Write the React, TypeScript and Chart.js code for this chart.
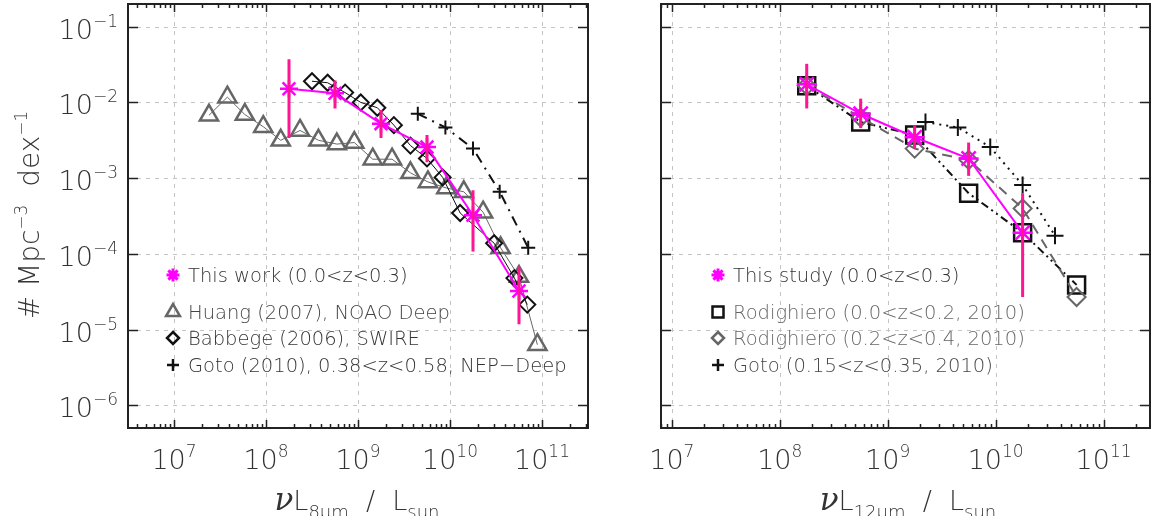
import React, { useEffect, useRef } from 'react';
import { Chart, registerables } from 'chart.js';

Chart.register(...registerables);

// ===== Left panel: 8 micron luminosity function (log10 values) =====
const thisWorkLogL = [8.25, 8.75, 9.25, 9.75, 10.25, 10.75];
const thisWorkLogPhi = [-1.82, -1.88, -2.28, -2.59, -3.49, -4.49];
const thisWorkLogLo = [-2.47, -2.08, -2.47, -2.79, -3.97, -4.93];
const thisWorkLogHi = [-1.43, -1.71, -2.1, -2.43, -3.16, -4.17];

const huangLogL = [7.38, 7.58, 7.77, 7.97, 8.16, 8.37, 8.57, 8.77, 8.96, 9.16, 9.37, 9.57, 9.76, 9.96, 10.15, 10.36, 10.55, 10.75, 10.95];
const huangLogPhi = [-2.17, -1.93, -2.16, -2.32, -2.5, -2.37, -2.5, -2.55, -2.53, -2.75, -2.75, -2.93, -3.05, -3.13, -3.18, -3.45, -3.92, -4.3, -5.2];

const babbegeLogL = [8.5, 8.67, 8.86, 9.03, 9.21, 9.39, 9.57, 9.75, 9.92, 10.11, 10.48, 10.7, 10.84];
const babbegeLogPhi = [-1.72, -1.74, -1.87, -2.0, -2.07, -2.3, -2.57, -2.74, -2.99, -3.46, -3.86, -4.32, -4.67];

const gotoLogL = [9.65, 9.95, 10.25, 10.54, 10.85];
const gotoLogPhi = [-2.15, -2.33, -2.61, -3.18, -3.92];

// ===== Right panel: 12 micron luminosity function (log10 values) =====
const thisStudyLogL = [8.25, 8.75, 9.25, 9.75, 10.25];
const thisStudyLogPhi = [-1.76, -2.15, -2.46, -2.74, -3.72];
const thisStudyLogLo = [-2.08, -2.34, -2.61, -2.97, -4.57];
const thisStudyLogHi = [-1.49, -1.95, -2.3, -2.53, -3.2];

const rodALogL = [8.25, 8.75, 9.25, 9.75, 10.25, 10.75];
const rodALogPhi = [-1.78, -2.26, -2.43, -3.2, -3.72, -4.41];

const rodBLogL = [8.25, 8.75, 9.25, 9.75, 10.25, 10.75];
const rodBLogPhi = [-1.78, -2.2, -2.61, -2.76, -3.4, -4.57];

const gotoRLogL = [9.35, 9.65, 9.95, 10.25, 10.55];
const gotoRLogPhi = [-2.26, -2.33, -2.59, -3.09, -3.76];

// axis ranges (log10)
const leftXRange = [6.5, 11.5];
const rightXRange = [6.9, 11.43];
const yRange = [-6.3, -0.7];

const FONT = '"DejaVu Sans", "Liberation Sans", sans-serif';
const MAGENTA = '#FF00FF';
const PINK = '#FF1493';

type Part = { t: string; size: number; dy?: number; font?: string };

function drawParts(ctx: CanvasRenderingContext2D, parts: Part[], x: number, y: number, align: string, color: string) {
  const fonts = parts.map((p) => p.font ?? `300 ${p.size}px ${FONT}`);
  const widths = parts.map((p, i) => {
    ctx.font = fonts[i];
    return ctx.measureText(p.t).width;
  });
  const total = widths.reduce((a, b) => a + b, 0);
  let cx = align === 'left' ? x : align === 'center' ? x - total / 2 : x - total;
  ctx.textAlign = 'left';
  ctx.textBaseline = 'alphabetic';
  ctx.fillStyle = color;
  parts.forEach((p, i) => {
    ctx.font = fonts[i];
    ctx.fillText(p.t, cx, y + (p.dy ?? 0));
    cx += widths[i];
  });
}

function powParts(e: number): Part[] {
  return [
    { t: '10', size: 27 },
    { t: e < 0 ? '\u2212' + -e : String(e), size: 17, dy: -12 },
  ];
}

function drawMarker(ctx: CanvasRenderingContext2D, kind: string, x: number, y: number, r: number, color: string, lw: number) {
  ctx.save();
  ctx.strokeStyle = color;
  ctx.lineWidth = lw;
  ctx.setLineDash([]);
  ctx.beginPath();
  if (kind === 'star') {
    for (let k = 0; k < 4; k++) {
      const a = (k * Math.PI) / 4;
      ctx.moveTo(x - r * Math.cos(a), y - r * Math.sin(a));
      ctx.lineTo(x + r * Math.cos(a), y + r * Math.sin(a));
    }
  } else if (kind === 'triangle') {
    ctx.moveTo(x, y - r);
    ctx.lineTo(x + r * 0.866, y + r * 0.5);
    ctx.lineTo(x - r * 0.866, y + r * 0.5);
    ctx.closePath();
  } else if (kind === 'diamond') {
    ctx.moveTo(x, y - r);
    ctx.lineTo(x + r, y);
    ctx.lineTo(x, y + r);
    ctx.lineTo(x - r, y);
    ctx.closePath();
  } else if (kind === 'square') {
    ctx.rect(x - r, y - r, 2 * r, 2 * r);
  } else if (kind === 'plus') {
    ctx.moveTo(x - r, y);
    ctx.lineTo(x + r, y);
    ctx.moveTo(x, y - r);
    ctx.lineTo(x, y + r);
  }
  ctx.stroke();
  ctx.restore();
}

type LegendItem = { marker: string; color: string; r: number; lw: number; text: string; textColor: string; y: number };

type PanelCfg = {
  xRange: number[];
  showYLabels: boolean;
  yAxisWidth: number;
  rightPad: number;
  xTitleSub: string;
  xTitleCenter: number;
  legendX: number;
  legend: LegendItem[];
  err: { x: number[]; lo: number[]; hi: number[] };
  datasets: any[];
};

function makeFramePlugin(cfg: PanelCfg) {
  return {
    id: 'frame',
    beforeDatasetsDraw(chart: any) {
      const { ctx, chartArea: a } = chart;
      const xs = chart.scales.x;
      const ys = chart.scales.y;
      ctx.save();
      ctx.strokeStyle = '#c4c4c4';
      ctx.lineWidth = 1;
      ctx.setLineDash([4, 5]);
      for (let e = Math.ceil(cfg.xRange[0]); e <= Math.floor(cfg.xRange[1]); e++) {
        const px = Math.round(xs.getPixelForValue(Math.pow(10, e))) + 0.5;
        ctx.beginPath();
        ctx.moveTo(px, a.top);
        ctx.lineTo(px, a.bottom);
        ctx.stroke();
      }
      for (let e = Math.ceil(yRange[0]); e <= Math.floor(yRange[1]); e++) {
        const py = Math.round(ys.getPixelForValue(Math.pow(10, e))) + 0.5;
        ctx.beginPath();
        ctx.moveTo(a.left, py);
        ctx.lineTo(a.right, py);
        ctx.stroke();
      }
      ctx.restore();
    },
    afterDatasetsDraw(chart: any) {
      const { ctx, chartArea: a } = chart;
      const xs = chart.scales.x;
      const ys = chart.scales.y;
      ctx.save();
      ctx.beginPath();
      ctx.rect(a.left, a.top, a.right - a.left, a.bottom - a.top);
      ctx.clip();
      ctx.strokeStyle = PINK;
      ctx.lineWidth = 3;
      cfg.err.x.forEach((lx, i) => {
        const px = xs.getPixelForValue(Math.pow(10, lx));
        ctx.beginPath();
        ctx.moveTo(px, ys.getPixelForValue(Math.pow(10, cfg.err.lo[i])));
        ctx.lineTo(px, ys.getPixelForValue(Math.pow(10, cfg.err.hi[i])));
        ctx.stroke();
      });
      ctx.restore();
    },
    afterDraw(chart: any) {
      const { ctx, chartArea: a } = chart;
      const xs = chart.scales.x;
      const ys = chart.scales.y;
      ctx.save();
      // frame
      ctx.strokeStyle = '#222';
      ctx.lineWidth = 2;
      ctx.setLineDash([]);
      ctx.strokeRect(a.left, a.top, a.right - a.left, a.bottom - a.top);
      ctx.lineWidth = 1.5;
      // x ticks (top & bottom)
      for (let e = Math.floor(cfg.xRange[0]); e <= Math.ceil(cfg.xRange[1]); e++) {
        for (let k = 1; k <= 9; k++) {
          const v = k * Math.pow(10, e);
          const lv = Math.log10(v);
          if (lv < cfg.xRange[0] || lv > cfg.xRange[1]) continue;
          const px = Math.round(xs.getPixelForValue(v)) + 0.5;
          const len = k === 1 ? 8 : 4;
          ctx.beginPath();
          ctx.moveTo(px, a.bottom);
          ctx.lineTo(px, a.bottom - len);
          ctx.moveTo(px, a.top);
          ctx.lineTo(px, a.top + len);
          ctx.stroke();
        }
      }
      // y ticks (left & right)
      for (let e = Math.ceil(yRange[0]); e <= Math.floor(yRange[1]); e++) {
        const py = Math.round(ys.getPixelForValue(Math.pow(10, e))) + 0.5;
        ctx.beginPath();
        ctx.moveTo(a.left, py);
        ctx.lineTo(a.left + 10, py);
        ctx.moveTo(a.right, py);
        ctx.lineTo(a.right - 10, py);
        ctx.stroke();
      }
      // x tick labels
      for (let e = Math.ceil(cfg.xRange[0]); e <= Math.floor(cfg.xRange[1]); e++) {
        const px = xs.getPixelForValue(Math.pow(10, e));
        drawParts(ctx, powParts(e), px, a.bottom + 41, 'center', '#333');
      }
      // y tick labels
      if (cfg.showYLabels) {
        for (let e = Math.ceil(yRange[0]); e <= Math.floor(yRange[1]); e++) {
          const py = ys.getPixelForValue(Math.pow(10, e));
          drawParts(ctx, powParts(e), a.left - 10, py + 12, 'right', '#333');
        }
        // y title
        ctx.save();
        ctx.translate(39, 215);
        ctx.rotate(-Math.PI / 2);
        drawParts(
          ctx,
          [
            { t: '# Mpc', size: 28 },
            { t: '\u22123', size: 17, dy: -12 },
            { t: '  dex', size: 28 },
            { t: '\u22121', size: 17, dy: -12 },
          ],
          0,
          0,
          'center',
          '#333'
        );
        ctx.restore();
      }
      // x title
      drawParts(
        ctx,
        [
          { t: '\u03bd', size: 30, font: `italic 31px "DejaVu Serif", serif` },
          { t: 'L', size: 27 },
          { t: cfg.xTitleSub, size: 18, dy: 8 },
          { t: '  /  ', size: 27 },
          { t: 'L', size: 27 },
          { t: 'sun', size: 18, dy: 8 },
        ],
        cfg.xTitleCenter,
        510,
        'center',
        '#333'
      );
      // legend
      cfg.legend.forEach((it) => {
        drawMarker(ctx, it.marker, cfg.legendX, it.y, it.r, it.color, it.lw);
        drawParts(ctx, [{ t: it.text, size: 19.5 }], cfg.legendX + 15, it.y + 7, 'left', it.textColor);
      });
      ctx.restore();
    },
  };
}

function toPts(lx: number[], ly: number[]) {
  return lx.map((v, i) => ({ x: Math.pow(10, v), y: Math.pow(10, ly[i]) }));
}

function series(label: string, lx: number[], ly: number[], s: any) {
  return {
    label,
    data: toPts(lx, ly),
    showLine: true,
    borderColor: s.color,
    borderWidth: s.width,
    borderDash: s.dash ?? [],
    pointStyle: s.point,
    pointRadius: s.radius,
    pointBorderWidth: s.pointWidth,
    pointBorderColor: s.pointColor ?? s.color,
    pointBackgroundColor: 'rgba(0,0,0,0)',
    tension: 0,
  };
}

const leftCfg: PanelCfg = {
  xRange: leftXRange,
  showYLabels: true,
  yAxisWidth: 128,
  rightPad: 12,
  xTitleSub: '8\u03bcm',
  xTitleCenter: 357,
  legendX: 173,
  legend: [
    { marker: 'star', color: MAGENTA, r: 6.5, lw: 3, text: 'This work (0.0<z<0.3)', textColor: '#333', y: 275 },
    { marker: 'triangle', color: '#666', r: 8, lw: 2.5, text: 'Huang (2007), NOAO Deep', textColor: '#444', y: 312 },
    { marker: 'diamond', color: '#111', r: 6, lw: 2.5, text: 'Babbege (2006), SWIRE', textColor: '#333', y: 338 },
    { marker: 'plus', color: '#111', r: 6, lw: 2.5, text: 'Goto (2010), 0.38<z<0.58, NEP\u2212Deep', textColor: '#333', y: 365 },
  ],
  err: { x: thisWorkLogL, lo: thisWorkLogLo, hi: thisWorkLogHi },
  datasets: [
    series('This work', thisWorkLogL, thisWorkLogPhi, { color: MAGENTA, width: 2, point: 'star', radius: 9, pointWidth: 2.5 }),
    series('Goto (2010)', gotoLogL, gotoLogPhi, { color: '#111', width: 2, dash: [10, 6, 2, 6], point: 'cross', radius: 7, pointWidth: 2 }),
    series('Babbege (2006)', babbegeLogL, babbegeLogPhi, { color: '#111', width: 1, point: 'rectRot', radius: 8, pointWidth: 2 }),
    series('Huang (2007)', huangLogL, huangLogPhi, { color: '#666', width: 1, point: 'triangle', radius: 10.5, pointWidth: 2.5 }),
  ],
};

const rightCfg: PanelCfg = {
  xRange: rightXRange,
  showYLabels: false,
  yAxisWidth: 61,
  rightPad: 5,
  xTitleSub: '12\u03bcm',
  xTitleCenter: 308,
  legendX: 118,
  legend: [
    { marker: 'star', color: MAGENTA, r: 6.5, lw: 3, text: 'This study (0.0<z<0.3)', textColor: '#333', y: 275 },
    { marker: 'square', color: '#111', r: 5.5, lw: 2.5, text: 'Rodighiero (0.0<z<0.2, 2010)', textColor: '#666', y: 312 },
    { marker: 'diamond', color: '#666', r: 6, lw: 2.5, text: 'Rodighiero (0.2<z<0.4, 2010)', textColor: '#666', y: 338 },
    { marker: 'plus', color: '#111', r: 6, lw: 2.5, text: 'Goto (0.15<z<0.35, 2010)', textColor: '#444', y: 365 },
  ],
  err: { x: thisStudyLogL, lo: thisStudyLogLo, hi: thisStudyLogHi },
  datasets: [
    series('This study', thisStudyLogL, thisStudyLogPhi, { color: MAGENTA, width: 2, point: 'star', radius: 10, pointWidth: 2.5 }),
    series('Goto (2010)', gotoRLogL, gotoRLogPhi, { color: '#111', width: 2, dash: [2, 5], point: 'cross', radius: 8.5, pointWidth: 2 }),
    series('Rodighiero 0.2-0.4', rodBLogL, rodBLogPhi, { color: '#666', width: 2, dash: [10, 7], point: 'rectRot', radius: 9, pointWidth: 2 }),
    series('Rodighiero 0.0-0.2', rodALogL, rodALogPhi, { color: '#111', width: 2, dash: [8, 4, 2, 4, 2, 4], point: 'rect', radius: 12, pointWidth: 2.5 }),
  ],
};

function Panel({ cfg, left, width }: { cfg: PanelCfg; left: number; width: number }) {
  const ref = useRef<HTMLCanvasElement>(null);
  useEffect(() => {
    const chart = new Chart(ref.current as HTMLCanvasElement, {
      type: 'scatter',
      data: { datasets: cfg.datasets },
      options: {
        animation: false,
        responsive: false,
        maintainAspectRatio: false,
        devicePixelRatio: 1,
        layout: { autoPadding: false, padding: { top: 4, right: cfg.rightPad, left: 0, bottom: 0 } },
        plugins: { legend: { display: false }, tooltip: { enabled: false } },
        scales: {
          x: {
            type: 'logarithmic',
            min: Math.pow(10, cfg.xRange[0]),
            max: Math.pow(10, cfg.xRange[1]),
            grid: { display: false },
            border: { display: false },
            ticks: { display: false },
            afterFit: (s: any) => {
              s.height = 88;
            },
          },
          y: {
            type: 'logarithmic',
            min: Math.pow(10, yRange[0]),
            max: Math.pow(10, yRange[1]),
            grid: { display: false },
            border: { display: false },
            ticks: { display: false },
            afterFit: (s: any) => {
              s.width = cfg.yAxisWidth;
            },
          },
        },
      } as any,
      plugins: [makeFramePlugin(cfg)],
    });
    return () => chart.destroy();
  }, []);
  return (
    <canvas
      ref={ref}
      width={width}
      height={516}
      style={{ position: 'absolute', left, top: 0, width, height: 516 }}
    />
  );
}

export default function App() {
  return (
    <div style={{ position: 'absolute', left: 0, top: 0, width: 1155, height: 516, background: '#fff', overflow: 'hidden' }}>
      <Panel cfg={leftCfg} left={0} width={600} />
      <Panel cfg={rightCfg} left={600} width={555} />
    </div>
  );
}
